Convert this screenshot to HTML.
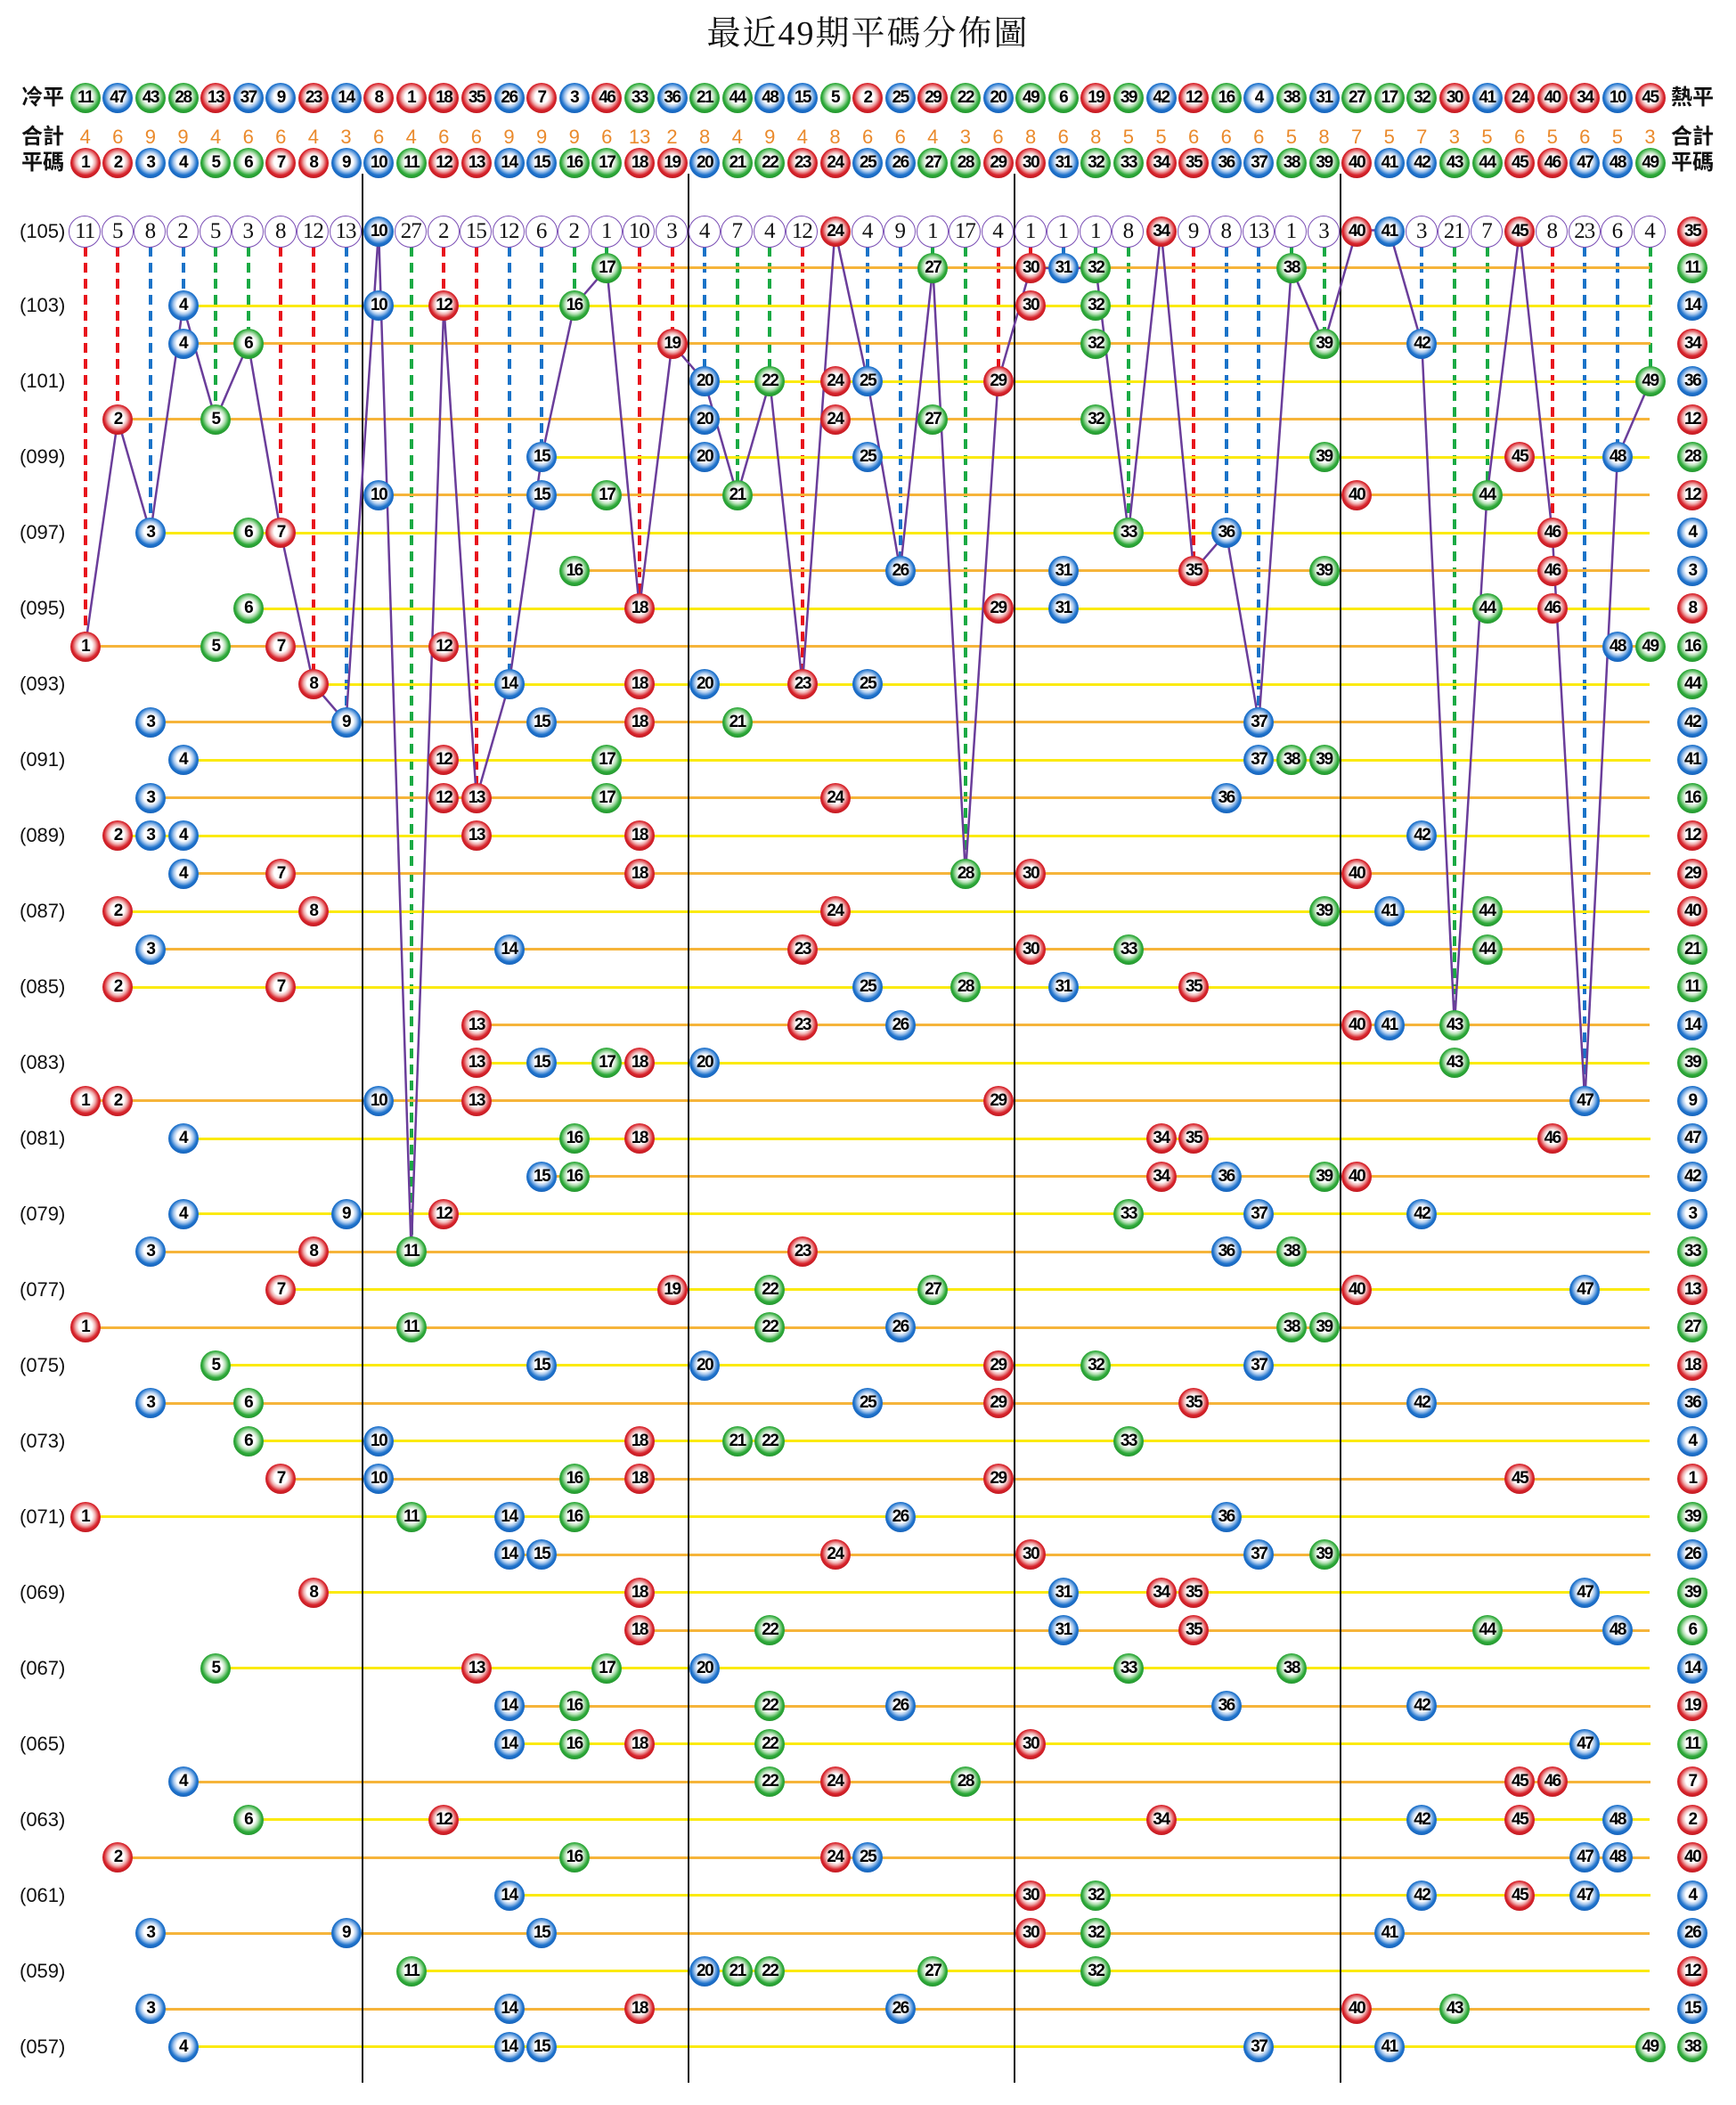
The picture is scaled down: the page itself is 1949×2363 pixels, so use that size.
<!DOCTYPE html>
<html><head><meta charset="utf-8"><style>
body{margin:0;background:#fff;width:1949px;height:2363px;position:relative;overflow:hidden;font-family:"Liberation Sans","Noto Sans CJK TC",sans-serif}
.t{position:absolute;left:0;width:1949px;top:14px;text-align:center;font:38px/48px "Liberation Serif","Noto Serif CJK SC",serif;letter-spacing:2px;color:#111}
.w{position:absolute;left:0;top:calc(258.5px + var(--r)*42.48px);width:1949px;height:0}
.w i{position:absolute;left:calc(59.1px + var(--c)*36.6px - 17px);top:-17px;width:34px;height:34px;border-radius:50%;font:bold 19px/34px "Liberation Sans",sans-serif;text-align:center;color:#000;font-style:normal;letter-spacing:-1.5px;z-index:3}
.R{background:radial-gradient(circle at 50% 46%,#fff 0,#fff 30%,#f0b0b0 44%,#d8242c 60%,#b3141b 82%,#7a0c10 100%)}
.B{background:radial-gradient(circle at 50% 46%,#fff 0,#fff 30%,#aac9ee 44%,#1f73cc 60%,#135ab0 82%,#0a3a78 100%)}
.G{background:radial-gradient(circle at 50% 46%,#fff 0,#fff 30%,#b3e0b3 44%,#2eaa3a 60%,#1e8a28 82%,#105a16 100%)}
.w b{position:absolute;height:3px;top:-1.5px;left:calc(59.1px + var(--f)*36.6px);width:calc((49 - var(--f))*36.6px);z-index:1}
.y b{background:#fbea10}.o b{background:#f6b43a}
.w u{position:absolute;left:22px;top:-14px;font:22px/28px "Liberation Sans",sans-serif;text-decoration:none;color:#111}
.w s{position:absolute;left:calc(59.1px + var(--c)*36.6px - 18.5px);top:-18.5px;width:34px;height:34px;border:1.5px solid #7b4fb5;border-radius:50%;background:#fff;font:25px/34px "Liberation Serif",serif;text-decoration:none;text-align:center;color:#111;z-index:3;letter-spacing:-1px}
.d{position:absolute;margin:0;top:17px;left:calc(59.1px + var(--c)*36.6px - 2px);width:4px;height:calc(var(--o)*42.48px - 34px);z-index:1}
.dr{background:repeating-linear-gradient(to bottom,#e8141c 0 11px,transparent 11px 18px)}
.db{background:repeating-linear-gradient(to bottom,#1a73c8 0 11px,transparent 11px 18px)}
.dg{background:repeating-linear-gradient(to bottom,#1aaa44 0 11px,transparent 11px 18px)}
.lb{position:absolute;font:bold 24px/30px "Liberation Sans","Noto Sans CJK TC",sans-serif;color:#111}
.sum{position:absolute;top:140px;left:0;height:30px;width:1949px}
.sum span{position:absolute;left:calc(59.1px + var(--c)*36.6px - 12px);width:24px;text-align:center;font:22px/28px "Liberation Sans",sans-serif;color:#ea8a2c}
.v{position:absolute;top:195px;height:2143px;width:2px;background:#111;z-index:2}
svg{position:absolute;left:0;top:0;z-index:2}
</style></head><body>
<div class="t">最近49期平碼分佈圖</div>
<div class="lb" style="left:24px;top:95px">冷平</div>
<div class="lb" style="left:24px;top:139px">合計</div>
<div class="lb" style="left:24px;top:168px">平碼</div>
<div class="lb" style="left:1876px;top:95px">熱平</div>
<div class="lb" style="left:1876px;top:139px">合計</div>
<div class="lb" style="left:1876px;top:168px">平碼</div>

<div class="w" style="top:110px"><i class=G style=--c:1>11</i><i class=B style=--c:2>47</i><i class=G style=--c:3>43</i><i class=G style=--c:4>28</i><i class=R style=--c:5>13</i><i class=B style=--c:6>37</i><i class=B style=--c:7>9</i><i class=R style=--c:8>23</i><i class=B style=--c:9>14</i><i class=R style=--c:10>8</i><i class=R style=--c:11>1</i><i class=R style=--c:12>18</i><i class=R style=--c:13>35</i><i class=B style=--c:14>26</i><i class=R style=--c:15>7</i><i class=B style=--c:16>3</i><i class=R style=--c:17>46</i><i class=G style=--c:18>33</i><i class=B style=--c:19>36</i><i class=G style=--c:20>21</i><i class=G style=--c:21>44</i><i class=B style=--c:22>48</i><i class=B style=--c:23>15</i><i class=G style=--c:24>5</i><i class=R style=--c:25>2</i><i class=B style=--c:26>25</i><i class=R style=--c:27>29</i><i class=G style=--c:28>22</i><i class=B style=--c:29>20</i><i class=G style=--c:30>49</i><i class=G style=--c:31>6</i><i class=R style=--c:32>19</i><i class=G style=--c:33>39</i><i class=B style=--c:34>42</i><i class=R style=--c:35>12</i><i class=G style=--c:36>16</i><i class=B style=--c:37>4</i><i class=G style=--c:38>38</i><i class=B style=--c:39>31</i><i class=G style=--c:40>27</i><i class=G style=--c:41>17</i><i class=G style=--c:42>32</i><i class=R style=--c:43>30</i><i class=B style=--c:44>41</i><i class=R style=--c:45>24</i><i class=R style=--c:46>40</i><i class=R style=--c:47>34</i><i class=B style=--c:48>10</i><i class=R style=--c:49>45</i></div>

<div class="sum"><span style=--c:1>4</span><span style=--c:2>6</span><span style=--c:3>9</span><span style=--c:4>9</span><span style=--c:5>4</span><span style=--c:6>6</span><span style=--c:7>6</span><span style=--c:8>4</span><span style=--c:9>3</span><span style=--c:10>6</span><span style=--c:11>4</span><span style=--c:12>6</span><span style=--c:13>6</span><span style=--c:14>9</span><span style=--c:15>9</span><span style=--c:16>9</span><span style=--c:17>6</span><span style=--c:18>13</span><span style=--c:19>2</span><span style=--c:20>8</span><span style=--c:21>4</span><span style=--c:22>9</span><span style=--c:23>4</span><span style=--c:24>8</span><span style=--c:25>6</span><span style=--c:26>6</span><span style=--c:27>4</span><span style=--c:28>3</span><span style=--c:29>6</span><span style=--c:30>8</span><span style=--c:31>6</span><span style=--c:32>8</span><span style=--c:33>5</span><span style=--c:34>5</span><span style=--c:35>6</span><span style=--c:36>6</span><span style=--c:37>6</span><span style=--c:38>5</span><span style=--c:39>8</span><span style=--c:40>7</span><span style=--c:41>5</span><span style=--c:42>7</span><span style=--c:43>3</span><span style=--c:44>5</span><span style=--c:45>6</span><span style=--c:46>5</span><span style=--c:47>6</span><span style=--c:48>5</span><span style=--c:49>3</span></div>

<div class="w" style="top:183px"><i class=R style=--c:1>1</i><i class=R style=--c:2>2</i><i class=B style=--c:3>3</i><i class=B style=--c:4>4</i><i class=G style=--c:5>5</i><i class=G style=--c:6>6</i><i class=R style=--c:7>7</i><i class=R style=--c:8>8</i><i class=B style=--c:9>9</i><i class=B style=--c:10>10</i><i class=G style=--c:11>11</i><i class=R style=--c:12>12</i><i class=R style=--c:13>13</i><i class=B style=--c:14>14</i><i class=B style=--c:15>15</i><i class=G style=--c:16>16</i><i class=G style=--c:17>17</i><i class=R style=--c:18>18</i><i class=R style=--c:19>19</i><i class=B style=--c:20>20</i><i class=G style=--c:21>21</i><i class=G style=--c:22>22</i><i class=R style=--c:23>23</i><i class=R style=--c:24>24</i><i class=B style=--c:25>25</i><i class=B style=--c:26>26</i><i class=G style=--c:27>27</i><i class=G style=--c:28>28</i><i class=R style=--c:29>29</i><i class=R style=--c:30>30</i><i class=B style=--c:31>31</i><i class=G style=--c:32>32</i><i class=G style=--c:33>33</i><i class=R style=--c:34>34</i><i class=R style=--c:35>35</i><i class=B style=--c:36>36</i><i class=B style=--c:37>37</i><i class=G style=--c:38>38</i><i class=G style=--c:39>39</i><i class=R style=--c:40>40</i><i class=B style=--c:41>41</i><i class=B style=--c:42>42</i><i class=G style=--c:43>43</i><i class=G style=--c:44>44</i><i class=R style=--c:45>45</i><i class=R style=--c:46>46</i><i class=B style=--c:47>47</i><i class=B style=--c:48>48</i><i class=G style=--c:49>49</i></div>

<div class="v" style="left:406px"></div><div class="v" style="left:772px"></div><div class="v" style="left:1138px"></div><div class="v" style="left:1504px"></div>

<svg width="1949" height="2363"><polyline transform="translate(59.1 258.5) scale(36.6 42.48)" fill="none" stroke="#6a3d9a" stroke-width="2.5" vector-effect="non-scaling-stroke" points="1,11 2,5 3,8 4,2 5,5 6,3 7,8 8,12 9,13 10,0 11,27 12,2 13,15 14,12 15,6 16,2 17,1 18,10 19,3 20,4 21,7 22,4 23,12 24,0 25,4 26,9 27,1 28,17 29,4 30,1 31,1 32,1 33,8 34,0 35,9 36,8 37,13 38,1 39,3 40,0 41,0 42,3 43,21 44,7 45,0 46,8 47,23 48,6 49,4"/></svg>

<div class="w" style="--r:0;top:260px"><u>(105)</u>
<s style=--c:1>11</s><s style=--c:2>5</s><s style=--c:3>8</s><s style=--c:4>2</s><s style=--c:5>5</s><s style=--c:6>3</s><s style=--c:7>8</s><s style=--c:8>12</s><s style=--c:9>13</s><i class=B style=--c:10>10</i><s style=--c:11>27</s><s style=--c:12>2</s><s style=--c:13>15</s><s style=--c:14>12</s><s style=--c:15>6</s><s style=--c:16>2</s><s style=--c:17>1</s><s style=--c:18>10</s><s style=--c:19>3</s><s style=--c:20>4</s><s style=--c:21>7</s><s style=--c:22>4</s><s style=--c:23>12</s><i class=R style=--c:24>24</i><s style=--c:25>4</s><s style=--c:26>9</s><s style=--c:27>1</s><s style=--c:28>17</s><s style=--c:29>4</s><s style=--c:30>1</s><s style=--c:31>1</s><s style=--c:32>1</s><s style=--c:33>8</s><i class=R style=--c:34>34</i><s style=--c:35>9</s><s style=--c:36>8</s><s style=--c:37>13</s><s style=--c:38>1</s><s style=--c:39>3</s><i class=R style=--c:40>40</i><i class=B style=--c:41>41</i><s style=--c:42>3</s><s style=--c:43>21</s><s style=--c:44>7</s><i class=R style=--c:45>45</i><s style=--c:46>8</s><s style=--c:47>23</s><s style=--c:48>6</s><s style=--c:49>4</s><i class=R style=--c:50.3>35</i>
<p class="d dr" style=--c:1;--o:11></p><p class="d dr" style=--c:2;--o:5></p><p class="d db" style=--c:3;--o:8></p><p class="d db" style=--c:4;--o:2></p><p class="d dg" style=--c:5;--o:5></p><p class="d dg" style=--c:6;--o:3></p><p class="d dr" style=--c:7;--o:8></p><p class="d dr" style=--c:8;--o:12></p><p class="d db" style=--c:9;--o:13></p><p class="d dg" style=--c:11;--o:27></p><p class="d dr" style=--c:12;--o:2></p><p class="d dr" style=--c:13;--o:15></p><p class="d db" style=--c:14;--o:12></p><p class="d db" style=--c:15;--o:6></p><p class="d dg" style=--c:16;--o:2></p><p class="d dg" style=--c:17;--o:1></p><p class="d dr" style=--c:18;--o:10></p><p class="d dr" style=--c:19;--o:3></p><p class="d db" style=--c:20;--o:4></p><p class="d dg" style=--c:21;--o:7></p><p class="d dg" style=--c:22;--o:4></p><p class="d dr" style=--c:23;--o:12></p><p class="d db" style=--c:25;--o:4></p><p class="d db" style=--c:26;--o:9></p><p class="d dg" style=--c:27;--o:1></p><p class="d dg" style=--c:28;--o:17></p><p class="d dr" style=--c:29;--o:4></p><p class="d dr" style=--c:30;--o:1></p><p class="d db" style=--c:31;--o:1></p><p class="d dg" style=--c:32;--o:1></p><p class="d dg" style=--c:33;--o:8></p><p class="d dr" style=--c:35;--o:9></p><p class="d db" style=--c:36;--o:8></p><p class="d db" style=--c:37;--o:13></p><p class="d dg" style=--c:38;--o:1></p><p class="d dg" style=--c:39;--o:3></p><p class="d db" style=--c:42;--o:3></p><p class="d dg" style=--c:43;--o:21></p><p class="d dg" style=--c:44;--o:7></p><p class="d dr" style=--c:46;--o:8></p><p class="d db" style=--c:47;--o:23></p><p class="d db" style=--c:48;--o:6></p><p class="d dg" style=--c:49;--o:4></p>
</div>

<div class="w o" style=--r:1><b style=--f:17></b><i class=G style=--c:17>17</i><i class=G style=--c:27>27</i><i class=R style=--c:30>30</i><i class=B style=--c:31>31</i><i class=G style=--c:32>32</i><i class=G style=--c:38>38</i><i class=G style=--c:50.3>11</i></div>
<div class="w y" style=--r:2><u>(103)</u><b style=--f:4></b><i class=B style=--c:4>4</i><i class=B style=--c:10>10</i><i class=R style=--c:12>12</i><i class=G style=--c:16>16</i><i class=R style=--c:30>30</i><i class=G style=--c:32>32</i><i class=B style=--c:50.3>14</i></div>
<div class="w o" style=--r:3><b style=--f:4></b><i class=B style=--c:4>4</i><i class=G style=--c:6>6</i><i class=R style=--c:19>19</i><i class=G style=--c:32>32</i><i class=G style=--c:39>39</i><i class=B style=--c:42>42</i><i class=R style=--c:50.3>34</i></div>
<div class="w y" style=--r:4><u>(101)</u><b style=--f:20></b><i class=B style=--c:20>20</i><i class=G style=--c:22>22</i><i class=R style=--c:24>24</i><i class=B style=--c:25>25</i><i class=R style=--c:29>29</i><i class=G style=--c:49>49</i><i class=B style=--c:50.3>36</i></div>
<div class="w o" style=--r:5><b style=--f:2></b><i class=R style=--c:2>2</i><i class=G style=--c:5>5</i><i class=B style=--c:20>20</i><i class=R style=--c:24>24</i><i class=G style=--c:27>27</i><i class=G style=--c:32>32</i><i class=R style=--c:50.3>12</i></div>
<div class="w y" style=--r:6><u>(099)</u><b style=--f:15></b><i class=B style=--c:15>15</i><i class=B style=--c:20>20</i><i class=B style=--c:25>25</i><i class=G style=--c:39>39</i><i class=R style=--c:45>45</i><i class=B style=--c:48>48</i><i class=G style=--c:50.3>28</i></div>
<div class="w o" style=--r:7><b style=--f:10></b><i class=B style=--c:10>10</i><i class=B style=--c:15>15</i><i class=G style=--c:17>17</i><i class=G style=--c:21>21</i><i class=R style=--c:40>40</i><i class=G style=--c:44>44</i><i class=R style=--c:50.3>12</i></div>
<div class="w y" style=--r:8><u>(097)</u><b style=--f:3></b><i class=B style=--c:3>3</i><i class=G style=--c:6>6</i><i class=R style=--c:7>7</i><i class=G style=--c:33>33</i><i class=B style=--c:36>36</i><i class=R style=--c:46>46</i><i class=B style=--c:50.3>4</i></div>
<div class="w o" style=--r:9><b style=--f:16></b><i class=G style=--c:16>16</i><i class=B style=--c:26>26</i><i class=B style=--c:31>31</i><i class=R style=--c:35>35</i><i class=G style=--c:39>39</i><i class=R style=--c:46>46</i><i class=B style=--c:50.3>3</i></div>
<div class="w y" style=--r:10><u>(095)</u><b style=--f:6></b><i class=G style=--c:6>6</i><i class=R style=--c:18>18</i><i class=R style=--c:29>29</i><i class=B style=--c:31>31</i><i class=G style=--c:44>44</i><i class=R style=--c:46>46</i><i class=R style=--c:50.3>8</i></div>
<div class="w o" style=--r:11><b style=--f:1></b><i class=R style=--c:1>1</i><i class=G style=--c:5>5</i><i class=R style=--c:7>7</i><i class=R style=--c:12>12</i><i class=B style=--c:48>48</i><i class=G style=--c:49>49</i><i class=G style=--c:50.3>16</i></div>
<div class="w y" style=--r:12><u>(093)</u><b style=--f:8></b><i class=R style=--c:8>8</i><i class=B style=--c:14>14</i><i class=R style=--c:18>18</i><i class=B style=--c:20>20</i><i class=R style=--c:23>23</i><i class=B style=--c:25>25</i><i class=G style=--c:50.3>44</i></div>
<div class="w o" style=--r:13><b style=--f:3></b><i class=B style=--c:3>3</i><i class=B style=--c:9>9</i><i class=B style=--c:15>15</i><i class=R style=--c:18>18</i><i class=G style=--c:21>21</i><i class=B style=--c:37>37</i><i class=B style=--c:50.3>42</i></div>
<div class="w y" style=--r:14><u>(091)</u><b style=--f:4></b><i class=B style=--c:4>4</i><i class=R style=--c:12>12</i><i class=G style=--c:17>17</i><i class=B style=--c:37>37</i><i class=G style=--c:38>38</i><i class=G style=--c:39>39</i><i class=B style=--c:50.3>41</i></div>
<div class="w o" style=--r:15><b style=--f:3></b><i class=B style=--c:3>3</i><i class=R style=--c:12>12</i><i class=R style=--c:13>13</i><i class=G style=--c:17>17</i><i class=R style=--c:24>24</i><i class=B style=--c:36>36</i><i class=G style=--c:50.3>16</i></div>
<div class="w y" style=--r:16><u>(089)</u><b style=--f:2></b><i class=R style=--c:2>2</i><i class=B style=--c:3>3</i><i class=B style=--c:4>4</i><i class=R style=--c:13>13</i><i class=R style=--c:18>18</i><i class=B style=--c:42>42</i><i class=R style=--c:50.3>12</i></div>
<div class="w o" style=--r:17><b style=--f:4></b><i class=B style=--c:4>4</i><i class=R style=--c:7>7</i><i class=R style=--c:18>18</i><i class=G style=--c:28>28</i><i class=R style=--c:30>30</i><i class=R style=--c:40>40</i><i class=R style=--c:50.3>29</i></div>
<div class="w y" style=--r:18><u>(087)</u><b style=--f:2></b><i class=R style=--c:2>2</i><i class=R style=--c:8>8</i><i class=R style=--c:24>24</i><i class=G style=--c:39>39</i><i class=B style=--c:41>41</i><i class=G style=--c:44>44</i><i class=R style=--c:50.3>40</i></div>
<div class="w o" style=--r:19><b style=--f:3></b><i class=B style=--c:3>3</i><i class=B style=--c:14>14</i><i class=R style=--c:23>23</i><i class=R style=--c:30>30</i><i class=G style=--c:33>33</i><i class=G style=--c:44>44</i><i class=G style=--c:50.3>21</i></div>
<div class="w y" style=--r:20><u>(085)</u><b style=--f:2></b><i class=R style=--c:2>2</i><i class=R style=--c:7>7</i><i class=B style=--c:25>25</i><i class=G style=--c:28>28</i><i class=B style=--c:31>31</i><i class=R style=--c:35>35</i><i class=G style=--c:50.3>11</i></div>
<div class="w o" style=--r:21><b style=--f:13></b><i class=R style=--c:13>13</i><i class=R style=--c:23>23</i><i class=B style=--c:26>26</i><i class=R style=--c:40>40</i><i class=B style=--c:41>41</i><i class=G style=--c:43>43</i><i class=B style=--c:50.3>14</i></div>
<div class="w y" style=--r:22><u>(083)</u><b style=--f:13></b><i class=R style=--c:13>13</i><i class=B style=--c:15>15</i><i class=G style=--c:17>17</i><i class=R style=--c:18>18</i><i class=B style=--c:20>20</i><i class=G style=--c:43>43</i><i class=G style=--c:50.3>39</i></div>
<div class="w o" style=--r:23><b style=--f:1></b><i class=R style=--c:1>1</i><i class=R style=--c:2>2</i><i class=B style=--c:10>10</i><i class=R style=--c:13>13</i><i class=R style=--c:29>29</i><i class=B style=--c:47>47</i><i class=B style=--c:50.3>9</i></div>
<div class="w y" style=--r:24><u>(081)</u><b style=--f:4></b><i class=B style=--c:4>4</i><i class=G style=--c:16>16</i><i class=R style=--c:18>18</i><i class=R style=--c:34>34</i><i class=R style=--c:35>35</i><i class=R style=--c:46>46</i><i class=B style=--c:50.3>47</i></div>
<div class="w o" style=--r:25><b style=--f:15></b><i class=B style=--c:15>15</i><i class=G style=--c:16>16</i><i class=R style=--c:34>34</i><i class=B style=--c:36>36</i><i class=G style=--c:39>39</i><i class=R style=--c:40>40</i><i class=B style=--c:50.3>42</i></div>
<div class="w y" style=--r:26><u>(079)</u><b style=--f:4></b><i class=B style=--c:4>4</i><i class=B style=--c:9>9</i><i class=R style=--c:12>12</i><i class=G style=--c:33>33</i><i class=B style=--c:37>37</i><i class=B style=--c:42>42</i><i class=B style=--c:50.3>3</i></div>
<div class="w o" style=--r:27><b style=--f:3></b><i class=B style=--c:3>3</i><i class=R style=--c:8>8</i><i class=G style=--c:11>11</i><i class=R style=--c:23>23</i><i class=B style=--c:36>36</i><i class=G style=--c:38>38</i><i class=G style=--c:50.3>33</i></div>
<div class="w y" style=--r:28><u>(077)</u><b style=--f:7></b><i class=R style=--c:7>7</i><i class=R style=--c:19>19</i><i class=G style=--c:22>22</i><i class=G style=--c:27>27</i><i class=R style=--c:40>40</i><i class=B style=--c:47>47</i><i class=R style=--c:50.3>13</i></div>
<div class="w o" style=--r:29><b style=--f:1></b><i class=R style=--c:1>1</i><i class=G style=--c:11>11</i><i class=G style=--c:22>22</i><i class=B style=--c:26>26</i><i class=G style=--c:38>38</i><i class=G style=--c:39>39</i><i class=G style=--c:50.3>27</i></div>
<div class="w y" style=--r:30><u>(075)</u><b style=--f:5></b><i class=G style=--c:5>5</i><i class=B style=--c:15>15</i><i class=B style=--c:20>20</i><i class=R style=--c:29>29</i><i class=G style=--c:32>32</i><i class=B style=--c:37>37</i><i class=R style=--c:50.3>18</i></div>
<div class="w o" style=--r:31><b style=--f:3></b><i class=B style=--c:3>3</i><i class=G style=--c:6>6</i><i class=B style=--c:25>25</i><i class=R style=--c:29>29</i><i class=R style=--c:35>35</i><i class=B style=--c:42>42</i><i class=B style=--c:50.3>36</i></div>
<div class="w y" style=--r:32><u>(073)</u><b style=--f:6></b><i class=G style=--c:6>6</i><i class=B style=--c:10>10</i><i class=R style=--c:18>18</i><i class=G style=--c:21>21</i><i class=G style=--c:22>22</i><i class=G style=--c:33>33</i><i class=B style=--c:50.3>4</i></div>
<div class="w o" style=--r:33><b style=--f:7></b><i class=R style=--c:7>7</i><i class=B style=--c:10>10</i><i class=G style=--c:16>16</i><i class=R style=--c:18>18</i><i class=R style=--c:29>29</i><i class=R style=--c:45>45</i><i class=R style=--c:50.3>1</i></div>
<div class="w y" style=--r:34><u>(071)</u><b style=--f:1></b><i class=R style=--c:1>1</i><i class=G style=--c:11>11</i><i class=B style=--c:14>14</i><i class=G style=--c:16>16</i><i class=B style=--c:26>26</i><i class=B style=--c:36>36</i><i class=G style=--c:50.3>39</i></div>
<div class="w o" style=--r:35><b style=--f:14></b><i class=B style=--c:14>14</i><i class=B style=--c:15>15</i><i class=R style=--c:24>24</i><i class=R style=--c:30>30</i><i class=B style=--c:37>37</i><i class=G style=--c:39>39</i><i class=B style=--c:50.3>26</i></div>
<div class="w y" style=--r:36><u>(069)</u><b style=--f:8></b><i class=R style=--c:8>8</i><i class=R style=--c:18>18</i><i class=B style=--c:31>31</i><i class=R style=--c:34>34</i><i class=R style=--c:35>35</i><i class=B style=--c:47>47</i><i class=G style=--c:50.3>39</i></div>
<div class="w o" style=--r:37><b style=--f:18></b><i class=R style=--c:18>18</i><i class=G style=--c:22>22</i><i class=B style=--c:31>31</i><i class=R style=--c:35>35</i><i class=G style=--c:44>44</i><i class=B style=--c:48>48</i><i class=G style=--c:50.3>6</i></div>
<div class="w y" style=--r:38><u>(067)</u><b style=--f:5></b><i class=G style=--c:5>5</i><i class=R style=--c:13>13</i><i class=G style=--c:17>17</i><i class=B style=--c:20>20</i><i class=G style=--c:33>33</i><i class=G style=--c:38>38</i><i class=B style=--c:50.3>14</i></div>
<div class="w o" style=--r:39><b style=--f:14></b><i class=B style=--c:14>14</i><i class=G style=--c:16>16</i><i class=G style=--c:22>22</i><i class=B style=--c:26>26</i><i class=B style=--c:36>36</i><i class=B style=--c:42>42</i><i class=R style=--c:50.3>19</i></div>
<div class="w y" style=--r:40><u>(065)</u><b style=--f:14></b><i class=B style=--c:14>14</i><i class=G style=--c:16>16</i><i class=R style=--c:18>18</i><i class=G style=--c:22>22</i><i class=R style=--c:30>30</i><i class=B style=--c:47>47</i><i class=G style=--c:50.3>11</i></div>
<div class="w o" style=--r:41><b style=--f:4></b><i class=B style=--c:4>4</i><i class=G style=--c:22>22</i><i class=R style=--c:24>24</i><i class=G style=--c:28>28</i><i class=R style=--c:45>45</i><i class=R style=--c:46>46</i><i class=R style=--c:50.3>7</i></div>
<div class="w y" style=--r:42><u>(063)</u><b style=--f:6></b><i class=G style=--c:6>6</i><i class=R style=--c:12>12</i><i class=R style=--c:34>34</i><i class=B style=--c:42>42</i><i class=R style=--c:45>45</i><i class=B style=--c:48>48</i><i class=R style=--c:50.3>2</i></div>
<div class="w o" style=--r:43><b style=--f:2></b><i class=R style=--c:2>2</i><i class=G style=--c:16>16</i><i class=R style=--c:24>24</i><i class=B style=--c:25>25</i><i class=B style=--c:47>47</i><i class=B style=--c:48>48</i><i class=R style=--c:50.3>40</i></div>
<div class="w y" style=--r:44><u>(061)</u><b style=--f:14></b><i class=B style=--c:14>14</i><i class=R style=--c:30>30</i><i class=G style=--c:32>32</i><i class=B style=--c:42>42</i><i class=R style=--c:45>45</i><i class=B style=--c:47>47</i><i class=B style=--c:50.3>4</i></div>
<div class="w o" style=--r:45><b style=--f:3></b><i class=B style=--c:3>3</i><i class=B style=--c:9>9</i><i class=B style=--c:15>15</i><i class=R style=--c:30>30</i><i class=G style=--c:32>32</i><i class=B style=--c:41>41</i><i class=B style=--c:50.3>26</i></div>
<div class="w y" style=--r:46><u>(059)</u><b style=--f:11></b><i class=G style=--c:11>11</i><i class=B style=--c:20>20</i><i class=G style=--c:21>21</i><i class=G style=--c:22>22</i><i class=G style=--c:27>27</i><i class=G style=--c:32>32</i><i class=R style=--c:50.3>12</i></div>
<div class="w o" style=--r:47><b style=--f:3></b><i class=B style=--c:3>3</i><i class=B style=--c:14>14</i><i class=R style=--c:18>18</i><i class=B style=--c:26>26</i><i class=R style=--c:40>40</i><i class=G style=--c:43>43</i><i class=B style=--c:50.3>15</i></div>
<div class="w y" style=--r:48><u>(057)</u><b style=--f:4></b><i class=B style=--c:4>4</i><i class=B style=--c:14>14</i><i class=B style=--c:15>15</i><i class=B style=--c:37>37</i><i class=B style=--c:41>41</i><i class=G style=--c:49>49</i><i class=G style=--c:50.3>38</i></div>
</body></html>
